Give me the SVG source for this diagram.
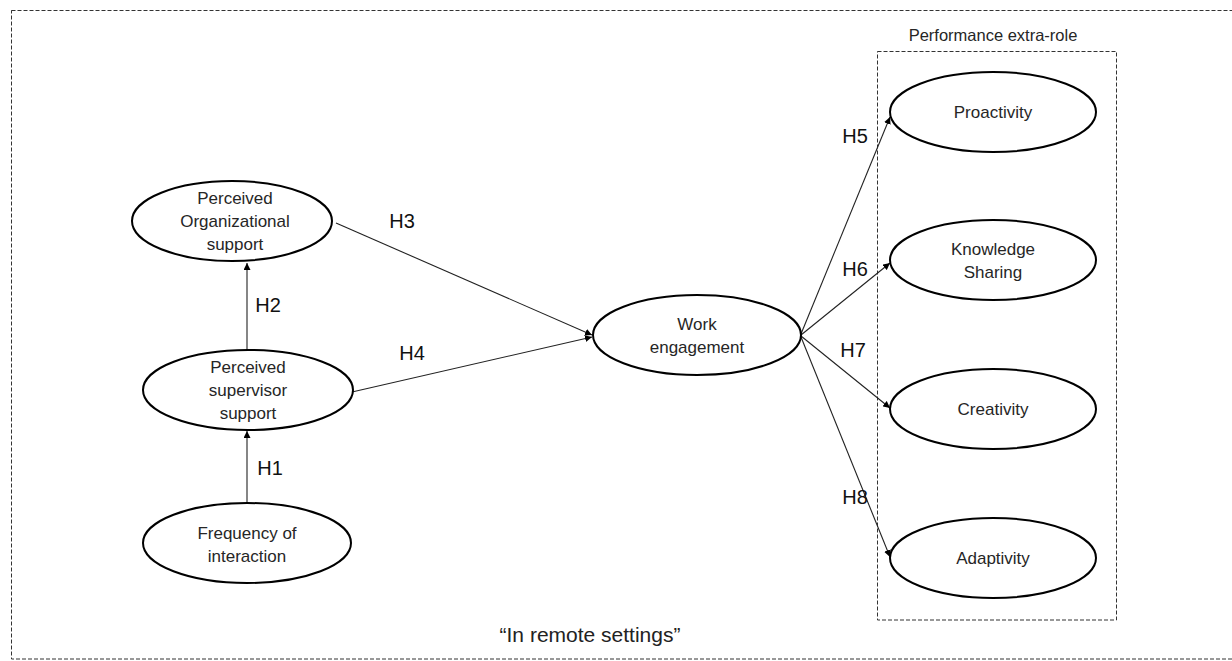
<svg xmlns="http://www.w3.org/2000/svg" width="1232" height="661" viewBox="0 0 1232 661">
<style>
.bg{fill:#fff}
.frame{fill:none;stroke:#333;stroke-width:1;stroke-dasharray:4 2}
.node ellipse{fill:#fff;stroke:#000;stroke-width:2}
.node text{font-family:"Liberation Sans",Arial,sans-serif;font-size:17px;fill:#262626;text-anchor:middle}
.conn line{stroke:#222;stroke-width:1.1;marker-end:url(#ah)}
.lbl{font-family:"Liberation Sans",Arial,sans-serif;font-size:20px;fill:#111;text-anchor:middle}
.cap{font-family:"Liberation Sans",Arial,sans-serif;font-size:16.5px;fill:#262626;text-anchor:middle}
.foot{font-family:"Liberation Sans",Arial,sans-serif;font-size:21px;fill:#222;text-anchor:middle}
</style>
<defs>
<marker id="ah" viewBox="0 0 10 10" refX="10" refY="5" markerWidth="7" markerHeight="7" markerUnits="userSpaceOnUse" orient="auto">
<path d="M0,0 L10,5 L0,10 z" fill="#000"/>
</marker>
</defs>
<rect class="bg" x="0" y="0" width="1232" height="661"/>
<rect id="outer-frame" class="frame" x="11.5" y="10.5" width="1240" height="648.5"/>
<g id="group-performance">
<rect class="frame" x="877.5" y="51.5" width="239" height="568.5"/>
<text class="cap" x="993" y="41">Performance extra-role</text>
</g>
<g id="connectors" class="conn">
<line x1="247" y1="503" x2="247" y2="431"/>
<line x1="247" y1="350" x2="247" y2="263"/>
<line x1="336" y1="223" x2="592" y2="335"/>
<line x1="352" y1="392" x2="592" y2="337"/>
<line x1="801" y1="334" x2="890" y2="117"/>
<line x1="801" y1="335" x2="890" y2="263"/>
<line x1="801" y1="336" x2="890" y2="408"/>
<line x1="801" y1="337" x2="890" y2="557"/>
</g>
<g id="labels">
<text class="lbl" x="270" y="475">H1</text>
<text class="lbl" x="268" y="312">H2</text>
<text class="lbl" x="402" y="228">H3</text>
<text class="lbl" x="412" y="360">H4</text>
<text class="lbl" x="855" y="143">H5</text>
<text class="lbl" x="855" y="276">H6</text>
<text class="lbl" x="853" y="357">H7</text>
<text class="lbl" x="855" y="504">H8</text>
</g>
<g id="node-pos" class="node">
<ellipse cx="232" cy="221" rx="100" ry="40"/>
<text x="235" y="204">Perceived</text>
<text x="235" y="227">Organizational</text>
<text x="235" y="250">support</text>
</g>
<g id="node-pss" class="node">
<ellipse cx="248" cy="390" rx="105" ry="40"/>
<text x="248" y="373">Perceived</text>
<text x="248" y="396">supervisor</text>
<text x="248" y="419">support</text>
</g>
<g id="node-freq" class="node">
<ellipse cx="247" cy="543" rx="104" ry="40"/>
<text x="247" y="539">Frequency of</text>
<text x="247" y="562">interaction</text>
</g>
<g id="node-we" class="node">
<ellipse cx="697" cy="335" rx="104" ry="40"/>
<text x="697" y="330">Work</text>
<text x="697" y="353">engagement</text>
</g>
<g id="node-proactivity" class="node">
<ellipse cx="993" cy="112" rx="103" ry="40"/>
<text x="993" y="118">Proactivity</text>
</g>
<g id="node-knowledge" class="node">
<ellipse cx="993" cy="260" rx="103" ry="40"/>
<text x="993" y="255">Knowledge</text>
<text x="993" y="278">Sharing</text>
</g>
<g id="node-creativity" class="node">
<ellipse cx="993" cy="409" rx="103" ry="40"/>
<text x="993" y="415">Creativity</text>
</g>
<g id="node-adaptivity" class="node">
<ellipse cx="993" cy="558" rx="103" ry="40"/>
<text x="993" y="564">Adaptivity</text>
</g>
<text id="footer" class="foot" x="590" y="642">“In remote settings”</text>
</svg>
